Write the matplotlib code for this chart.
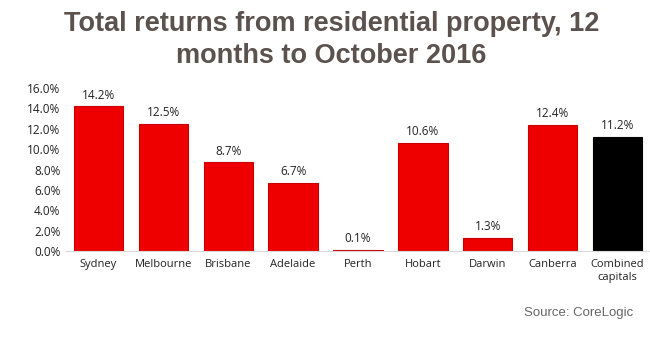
import matplotlib; matplotlib.use("Agg")
import matplotlib.pyplot as plt
from matplotlib.ticker import FuncFormatter

cities = ['Sydney', 'Melbourne', 'Brisbane', 'Adelaide', 'Perth', 'Hobart', 'Darwin', 'Canberra', 'Combined\ncapitals']
returns = [14.2, 12.5, 8.7, 6.7, 0.1, 10.6, 1.3, 12.4, 11.2]
colors = ['#ee0000'] * 8 + ['#000000']

fig = plt.figure(figsize=(6.5, 3.37), dpi=100)
ax = fig.add_axes([0.1015, 0.255, 0.8985, 0.484])
x = range(len(cities))
ax.bar(x, returns, width=0.76, color=colors, edgecolor=['#c80000'] * 8 + ['#000000'], linewidth=0.8)
for i, v in enumerate(returns):
    ax.text(i, v + 0.45, f"{v:.1f}%", ha='center', va='bottom', fontsize=8.5, color='#222222', family='Open Sans')

ax.set_xlim(-0.5, len(cities) - 0.5)
ax.set_ylim(0, 16)
ax.set_yticks(range(0, 17, 2))
ax.yaxis.set_major_formatter(FuncFormatter(lambda v, p: f"{v:.1f}%"))
ax.set_xticks(list(x))
ax.set_xticklabels(cities, fontsize=8, family='Open Sans', color='#222222')
for t in ax.get_yticklabels():
    t.set_fontsize(8.5); t.set_family('Open Sans'); t.set_color('#222222')
ax.tick_params(length=0, pad=6)
ax.tick_params(axis='y', pad=4)
for s in ['top', 'right', 'left']:
    ax.spines[s].set_visible(False)
ax.spines['bottom'].set_color('#d9d9d9')
ax.spines['bottom'].set_linewidth(0.8)

fig.text(0.51, 0.881, "Total returns from residential property, 12\nmonths to October 2016",
         ha='center', va='center', fontsize=19.5, fontweight='bold', color='#5b514d',
         family='Liberation Sans', linespacing=1.3)
fig.text(0.975, 0.07, "Source: CoreLogic", ha='right', va='center', fontsize=9.5,
         color='#666666', family='Liberation Sans')

fig.savefig("out.png", dpi=100)
